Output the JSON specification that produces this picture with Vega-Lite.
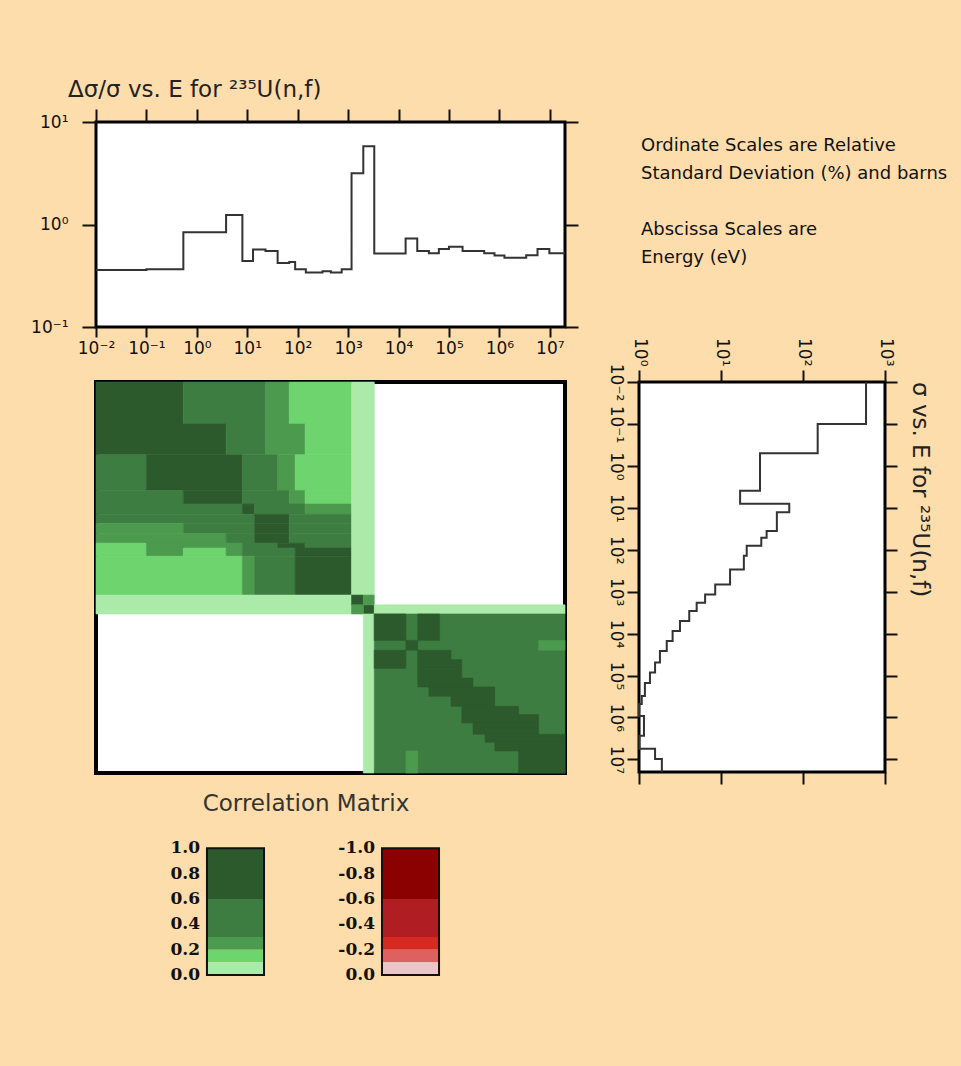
{
  "$schema": "https://vega.github.io/schema/vega-lite/v6.json",
  "autosize": "none",
  "padding": {"left": 96, "top": 122, "right": 865, "bottom": 944},
  "background": "#FDDDAB",
  "bounds": "flush",
  "columns": 2,
  "spacing": {"row": 55, "column": 74},
  "config": {
    "view": {"stroke": null},
    "axis": {"grid": false, "domain": false, "tickColor": "#111", "tickWidth": 2, "tickSize": 12, "labelFont": "DejaVu Sans", "labelFontSize": 17, "labelColor": "#111", "labelOverlap": false, "labelPadding": 3, "labelFlush": false},
    "title": {"font": "DejaVu Sans", "fontSize": 23, "fontWeight": "normal", "color": "#222"},
    "text": {"font": "DejaVu Sans"}
  },
  "datasets": {
    "unc": [
      {"E": 0.01, "u": 0.36}, {"E": 0.1, "u": 0.365}, {"E": 0.54, "u": 0.84}, {"E": 3.8, "u": 1.24},
      {"E": 8, "u": 0.44}, {"E": 13, "u": 0.57}, {"E": 23, "u": 0.55}, {"E": 40, "u": 0.42},
      {"E": 68, "u": 0.43}, {"E": 89, "u": 0.365}, {"E": 145, "u": 0.34}, {"E": 310, "u": 0.35},
      {"E": 455, "u": 0.34}, {"E": 745, "u": 0.365}, {"E": 1170, "u": 3.16}, {"E": 2000, "u": 5.8},
      {"E": 3300, "u": 0.52}, {"E": 13800, "u": 0.73}, {"E": 23500, "u": 0.552}, {"E": 40000, "u": 0.523},
      {"E": 63000, "u": 0.577}, {"E": 100000, "u": 0.608}, {"E": 186000, "u": 0.552}, {"E": 500000, "u": 0.523},
      {"E": 800000, "u": 0.497}, {"E": 1260000, "u": 0.474}, {"E": 3400000, "u": 0.5}, {"E": 5700000, "u": 0.577},
      {"E": 9800000, "u": 0.523}, {"E": 20000000, "u": 0.523}
    ],
    "sigma": [
      {"E": 0.01, "s": 587}, {"E": 0.1, "s": 151}, {"E": 0.5, "s": 29.9}, {"E": 3.9, "s": 17.1},
      {"E": 8, "s": 68}, {"E": 12.8, "s": 48}, {"E": 36, "s": 36}, {"E": 52, "s": 31},
      {"E": 80, "s": 20.6}, {"E": 140, "s": 19}, {"E": 295, "s": 12.9}, {"E": 675, "s": 8.5},
      {"E": 1170, "s": 6.4}, {"E": 1830, "s": 5.05}, {"E": 2900, "s": 4.1}, {"E": 5000, "s": 3.16},
      {"E": 8700, "s": 2.57}, {"E": 15000, "s": 2.18}, {"E": 26000, "s": 1.8}, {"E": 49000, "s": 1.57},
      {"E": 85000, "s": 1.36}, {"E": 150000, "s": 1.18}, {"E": 310000, "s": 1.08}, {"E": 480000, "s": 1.0},
      {"E": 920000, "s": 1.15}, {"E": 2750000, "s": 1.01}, {"E": 5600000, "s": 1.57}, {"E": 9800000, "s": 1.9},
      {"E": 20000000, "s": 1.9}
    ],
    "corr": [
      {"x1": 0.01, "x2": 0.54, "y1": 0.01, "y2": 0.1, "r": 0.8},
      {"x1": 0.54, "x2": 23, "y1": 0.01, "y2": 0.1, "r": 0.45},
      {"x1": 23, "x2": 68, "y1": 0.01, "y2": 0.1, "r": 0.25},
      {"x1": 68, "x2": 1170, "y1": 0.01, "y2": 0.1, "r": 0.15},
      {"x1": 0.01, "x2": 3.8, "y1": 0.1, "y2": 0.54, "r": 0.8},
      {"x1": 3.8, "x2": 23, "y1": 0.1, "y2": 0.54, "r": 0.45},
      {"x1": 23, "x2": 140, "y1": 0.1, "y2": 0.54, "r": 0.25},
      {"x1": 140, "x2": 1170, "y1": 0.1, "y2": 0.54, "r": 0.15},
      {"x1": 0.01, "x2": 0.1, "y1": 0.54, "y2": 3.8, "r": 0.45},
      {"x1": 0.1, "x2": 8, "y1": 0.54, "y2": 3.8, "r": 0.8},
      {"x1": 8, "x2": 40, "y1": 0.54, "y2": 3.8, "r": 0.45},
      {"x1": 40, "x2": 89, "y1": 0.54, "y2": 3.8, "r": 0.25},
      {"x1": 89, "x2": 1170, "y1": 0.54, "y2": 3.8, "r": 0.15},
      {"x1": 0.01, "x2": 0.54, "y1": 3.8, "y2": 8, "r": 0.45},
      {"x1": 0.54, "x2": 8, "y1": 3.8, "y2": 8, "r": 0.8},
      {"x1": 8, "x2": 68, "y1": 3.8, "y2": 8, "r": 0.45},
      {"x1": 68, "x2": 140, "y1": 3.8, "y2": 8, "r": 0.25},
      {"x1": 140, "x2": 1170, "y1": 3.8, "y2": 8, "r": 0.15},
      {"x1": 0.01, "x2": 8, "y1": 8, "y2": 14, "r": 0.45},
      {"x1": 8, "x2": 14, "y1": 8, "y2": 14, "r": 0.8},
      {"x1": 14, "x2": 140, "y1": 8, "y2": 14, "r": 0.45},
      {"x1": 140, "x2": 1170, "y1": 8, "y2": 14, "r": 0.25},
      {"x1": 0.01, "x2": 14, "y1": 14, "y2": 23, "r": 0.45},
      {"x1": 14, "x2": 68, "y1": 14, "y2": 23, "r": 0.8},
      {"x1": 68, "x2": 1170, "y1": 14, "y2": 23, "r": 0.45},
      {"x1": 0.01, "x2": 0.54, "y1": 23, "y2": 40, "r": 0.25},
      {"x1": 0.54, "x2": 14, "y1": 23, "y2": 40, "r": 0.45},
      {"x1": 14, "x2": 68, "y1": 23, "y2": 40, "r": 0.8},
      {"x1": 68, "x2": 1170, "y1": 23, "y2": 40, "r": 0.45},
      {"x1": 0.01, "x2": 3.8, "y1": 40, "y2": 68, "r": 0.25},
      {"x1": 3.8, "x2": 14, "y1": 40, "y2": 68, "r": 0.45},
      {"x1": 14, "x2": 68, "y1": 40, "y2": 68, "r": 0.8},
      {"x1": 68, "x2": 1170, "y1": 40, "y2": 68, "r": 0.45},
      {"x1": 0.01, "x2": 0.1, "y1": 68, "y2": 89, "r": 0.15},
      {"x1": 0.1, "x2": 8, "y1": 68, "y2": 89, "r": 0.25},
      {"x1": 8, "x2": 40, "y1": 68, "y2": 89, "r": 0.45},
      {"x1": 40, "x2": 140, "y1": 68, "y2": 89, "r": 0.8},
      {"x1": 140, "x2": 1170, "y1": 68, "y2": 89, "r": 0.45},
      {"x1": 0.01, "x2": 0.1, "y1": 89, "y2": 140, "r": 0.15},
      {"x1": 0.1, "x2": 0.54, "y1": 89, "y2": 140, "r": 0.25},
      {"x1": 0.54, "x2": 3.8, "y1": 89, "y2": 140, "r": 0.15},
      {"x1": 3.8, "x2": 8, "y1": 89, "y2": 140, "r": 0.25},
      {"x1": 8, "x2": 89, "y1": 89, "y2": 140, "r": 0.45},
      {"x1": 89, "x2": 1170, "y1": 89, "y2": 140, "r": 0.8},
      {"x1": 0.01, "x2": 8, "y1": 140, "y2": 1170, "r": 0.15},
      {"x1": 8, "x2": 14, "y1": 140, "y2": 1170, "r": 0.25},
      {"x1": 14, "x2": 89, "y1": 140, "y2": 1170, "r": 0.45},
      {"x1": 89, "x2": 1170, "y1": 140, "y2": 1170, "r": 0.8},
      {"x1": 1170, "x2": 3300, "y1": 0.01, "y2": 1170, "r": 0.05},
      {"x1": 0.01, "x2": 1170, "y1": 1170, "y2": 3300, "r": 0.05},
      {"x1": 1170, "x2": 2000, "y1": 1170, "y2": 2000, "r": 0.8},
      {"x1": 2000, "x2": 3300, "y1": 2000, "y2": 3300, "r": 0.8},
      {"x1": 2000, "x2": 3300, "y1": 1170, "y2": 2000, "r": 0.25},
      {"x1": 1170, "x2": 2000, "y1": 2000, "y2": 3300, "r": 0.25},
      {"x1": 3300, "x2": 20000000, "y1": 2000, "y2": 3300, "r": 0.05},
      {"x1": 2000, "x2": 3300, "y1": 3300, "y2": 20000000, "r": 0.05},
      {"x1": 3300, "x2": 20000000, "y1": 3300, "y2": 20000000, "r": 0.45},
      {"x1": 6000000, "x2": 20000000, "y1": 14000, "y2": 24000, "r": 0.25},
      {"x1": 14000, "x2": 24000, "y1": 6000000, "y2": 20000000, "r": 0.25},
      {"x1": 3300, "x2": 14000, "y1": 3300, "y2": 14000, "r": 0.8},
      {"x1": 24000, "x2": 65000, "y1": 3300, "y2": 14000, "r": 0.8},
      {"x1": 14000, "x2": 24000, "y1": 14000, "y2": 24000, "r": 0.8},
      {"x1": 3300, "x2": 14000, "y1": 24000, "y2": 40000, "r": 0.8},
      {"x1": 24000, "x2": 110000, "y1": 24000, "y2": 40000, "r": 0.8},
      {"x1": 3300, "x2": 14000, "y1": 40000, "y2": 65000, "r": 0.8},
      {"x1": 24000, "x2": 180000, "y1": 40000, "y2": 65000, "r": 0.8},
      {"x1": 24000, "x2": 180000, "y1": 65000, "y2": 110000, "r": 0.8},
      {"x1": 24000, "x2": 300000, "y1": 110000, "y2": 180000, "r": 0.8},
      {"x1": 40000, "x2": 810000, "y1": 180000, "y2": 300000, "r": 0.8},
      {"x1": 110000, "x2": 810000, "y1": 300000, "y2": 520000, "r": 0.8},
      {"x1": 180000, "x2": 2400000, "y1": 520000, "y2": 810000, "r": 0.8},
      {"x1": 180000, "x2": 6000000, "y1": 810000, "y2": 1300000, "r": 0.8},
      {"x1": 300000, "x2": 6000000, "y1": 1300000, "y2": 2400000, "r": 0.8},
      {"x1": 520000, "x2": 20000000, "y1": 2400000, "y2": 3700000, "r": 0.8},
      {"x1": 810000, "x2": 20000000, "y1": 3700000, "y2": 6000000, "r": 0.8},
      {"x1": 2400000, "x2": 20000000, "y1": 6000000, "y2": 20000000, "r": 0.8}
    ],
    "notes": [
      {"line": 0, "col": 0, "t": "Ordinate Scales are Relative"},
      {"line": 1, "col": 0, "t": "Standard Deviation (%) and barns"},
      {"line": 3, "col": 0, "t": "Abscissa Scales are"},
      {"line": 4, "col": 0, "t": "Energy (eV)"}
    ],
    "legendBars": [
      {"bar": "pos", "lo": 0.6, "hi": 1.0, "r": 0.8},
      {"bar": "pos", "lo": 0.3, "hi": 0.6, "r": 0.45},
      {"bar": "pos", "lo": 0.2, "hi": 0.3, "r": 0.25},
      {"bar": "pos", "lo": 0.1, "hi": 0.2, "r": 0.15},
      {"bar": "pos", "lo": 0.0, "hi": 0.1, "r": 0.05},
      {"bar": "neg", "lo": 0.6, "hi": 1.0, "r": -0.8},
      {"bar": "neg", "lo": 0.3, "hi": 0.6, "r": -0.45},
      {"bar": "neg", "lo": 0.2, "hi": 0.3, "r": -0.25},
      {"bar": "neg", "lo": 0.1, "hi": 0.2, "r": -0.15},
      {"bar": "neg", "lo": 0.0, "hi": 0.1, "r": -0.05}
    ],
    "legendFrame": [{"bar": "pos"}, {"bar": "neg"}],
    "legendLabels": [
      {"bar": "pos", "v": 1.0, "label": "1.0"}, {"bar": "pos", "v": 0.8, "label": "0.8"},
      {"bar": "pos", "v": 0.6, "label": "0.6"}, {"bar": "pos", "v": 0.4, "label": "0.4"},
      {"bar": "pos", "v": 0.2, "label": "0.2"}, {"bar": "pos", "v": 0.0, "label": "0.0"},
      {"bar": "neg", "v": 1.0, "label": "-1.0"}, {"bar": "neg", "v": 0.8, "label": "-0.8"},
      {"bar": "neg", "v": 0.6, "label": "-0.6"}, {"bar": "neg", "v": 0.4, "label": "-0.4"},
      {"bar": "neg", "v": 0.2, "label": "-0.2"}, {"bar": "neg", "v": 0.0, "label": "0.0"}
    ]
  },
  "concat": [
    {
      "width": 469,
      "height": 205,
      "view": {"stroke": "#000", "strokeWidth": 3, "fill": "#ffffff"},
      "title": {"text": "Δσ/σ vs. E for ²³⁵U(n,f)", "anchor": "start", "frame": "group", "dx": -28, "offset": 6},
      "data": {"name": "unc"},
      "layer": [
        {
          "mark": {"type": "line", "interpolate": "step-after", "color": "#333", "strokeWidth": 2},
          "encoding": {
            "x": {"field": "E", "type": "quantitative", "scale": {"type": "log", "domain": [0.01, 20000000], "nice": false},
                  "axis": {"orient": "bottom", "title": null, "tickSize": 10, "values": [0.01, 0.1, 1, 10, 100, 1000, 10000, 100000, 1000000, 10000000],
                           "labelExpr": "'10' + ['⁻²','⁻¹','⁰','¹','²','³','⁴','⁵','⁶','⁷'][round(log(datum.value)/LN10)+2]"}},
            "y": {"field": "u", "type": "quantitative", "scale": {"type": "log", "domain": [0.1, 10], "nice": false},
                  "axis": {"orient": "left", "title": null, "tickSize": 14, "values": [0.1, 1, 10], "labelPadding": 14,
                           "labelExpr": "'10' + ['⁻²','⁻¹','⁰','¹','²','³','⁴','⁵','⁶','⁷'][round(log(datum.value)/LN10)+2]"}}
          }
        },
        {
          "mark": {"type": "line", "interpolate": "step-after", "strokeOpacity": 0},
          "encoding": {
            "x": {"field": "E", "type": "quantitative", "axis": {"orient": "top", "title": null, "labels": false, "tickSize": 13, "values": [0.01, 0.1, 1, 10, 100, 1000, 10000, 100000, 1000000, 10000000]}},
            "y": {"field": "u", "type": "quantitative", "axis": {"orient": "right", "title": null, "labels": false, "tickSize": 13, "values": [0.1, 1, 10]}}
          }
        }
      ],
      "resolve": {"axis": {"x": "independent", "y": "independent"}}
    },
    {
      "width": 300,
      "height": 179,
      "data": {"name": "notes"},
      "mark": {"type": "text", "align": "left", "baseline": "middle", "fontSize": 18, "color": "#111", "dx": 2},
      "encoding": {
        "x": {"field": "col", "type": "quantitative", "scale": {"domain": [0, 1]}, "axis": null},
        "y": {"field": "line", "type": "quantitative", "scale": {"domain": [-0.85, 5.55], "reverse": true, "nice": false, "zero": false}, "axis": null},
        "text": {"field": "t"}
      }
    },
    {
      "width": 469,
      "height": 391,
      "view": {"stroke": "#000", "strokeWidth": 4, "fill": "#ffffff"},
      "data": {"name": "corr"},
      "mark": {"type": "rect", "strokeWidth": 0.6},
      "encoding": {
        "x": {"field": "x1", "type": "quantitative", "scale": {"type": "log", "domain": [0.01, 20000000], "nice": false}, "axis": null},
        "x2": {"field": "x2"},
        "y": {"field": "y1", "type": "quantitative", "scale": {"type": "log", "domain": [0.01, 20000000], "nice": false, "reverse": true}, "axis": null},
        "y2": {"field": "y2"},
        "fill": {"field": "r", "type": "quantitative", "legend": null,
                 "scale": {"type": "threshold", "domain": [-0.6, -0.3, -0.2, -0.1, 0, 0.1, 0.2, 0.3, 0.6],
                           "range": ["#8B0000", "#B01E23", "#D42A20", "#DE6060", "#EBC5C8", "#ABEAA8", "#6ED46E", "#4C9A4E", "#3E7D42", "#2D5A2D"]}},
        "stroke": {"field": "r", "type": "quantitative", "legend": null,
                 "scale": {"type": "threshold", "domain": [-0.6, -0.3, -0.2, -0.1, 0, 0.1, 0.2, 0.3, 0.6],
                           "range": ["#8B0000", "#B01E23", "#D42A20", "#DE6060", "#EBC5C8", "#ABEAA8", "#6ED46E", "#4C9A4E", "#3E7D42", "#2D5A2D"]}}
      }
    },
    {
      "width": 246,
      "height": 390,
      "view": {"stroke": "#000", "strokeWidth": 3, "fill": "#ffffff"},
      "title": {"text": "σ vs. E for ²³⁵U(n,f)", "orient": "right", "anchor": "start", "frame": "group", "offset": 10},
      "data": {"name": "sigma"},
      "layer": [
        {
          "mark": {"type": "line", "interpolate": "step-before", "color": "#333", "strokeWidth": 2},
          "encoding": {
            "x": {"field": "s", "type": "quantitative", "scale": {"type": "log", "domain": [1, 1000], "nice": false},
                  "axis": {"orient": "top", "title": null, "values": [1, 10, 100, 1000], "labelAngle": 90, "labelAlign": "right", "labelBaseline": "middle", "labelPadding": 4,
                           "labelExpr": "'10' + ['⁻²','⁻¹','⁰','¹','²','³','⁴','⁵','⁶','⁷'][round(log(datum.value)/LN10)+2]"}},
            "y": {"field": "E", "type": "quantitative", "scale": {"type": "log", "domain": [0.01, 20000000], "nice": false, "reverse": true},
                  "axis": {"orient": "left", "title": null, "values": [0.01, 0.1, 1, 10, 100, 1000, 10000, 100000, 1000000, 10000000], "labelAngle": 90, "labelAlign": "center", "labelBaseline": "top", "labelPadding": 4,
                           "labelExpr": "'10' + ['⁻²','⁻¹','⁰','¹','²','³','⁴','⁵','⁶','⁷'][round(log(datum.value)/LN10)+2]"}},
            "order": {"field": "E", "type": "quantitative"}
          }
        },
        {
          "mark": {"type": "line", "interpolate": "step-before", "strokeOpacity": 0},
          "encoding": {
            "x": {"field": "s", "type": "quantitative", "axis": {"orient": "bottom", "title": null, "labels": false, "values": [1, 10, 100, 1000]}},
            "y": {"field": "E", "type": "quantitative", "axis": {"orient": "right", "title": null, "labels": false, "values": [0.01, 0.1, 1, 10, 100, 1000, 10000, 100000, 1000000, 10000000]}},
            "order": {"field": "E", "type": "quantitative"}
          }
        }
      ],
      "resolve": {"axis": {"x": "independent", "y": "independent"}}
    },
    {
      "width": 454,
      "height": 147,
      "title": {"text": "Correlation Matrix", "anchor": "middle", "frame": "group", "dx": -17, "offset": 12, "color": "#333"},
      "layer": [
        {
          "data": {"name": "legendBars"},
          "mark": {"type": "rect"},
          "encoding": {
            "x": {"field": "bar", "type": "nominal", "scale": {"domain": ["pos", "neg"], "paddingInner": 0.674, "paddingOuter": 0.634}, "axis": null},
            "y": {"field": "lo", "type": "quantitative", "scale": {"domain": [0, 1.16], "nice": false, "zero": false}, "axis": null},
            "y2": {"field": "hi"},
            "fill": {"field": "r", "type": "quantitative", "legend": null,
                     "scale": {"type": "threshold", "domain": [-0.6, -0.3, -0.2, -0.1, 0, 0.1, 0.2, 0.3, 0.6],
                               "range": ["#8B0000", "#B01E23", "#D42A20", "#DE6060", "#EBC5C8", "#ABEAA8", "#6ED46E", "#4C9A4E", "#3E7D42", "#2D5A2D"]}}
          }
        },
        {
          "data": {"name": "legendFrame"},
          "mark": {"type": "rect", "fillOpacity": 0, "stroke": "#111", "strokeWidth": 2},
          "encoding": {
            "x": {"field": "bar", "type": "nominal"},
            "y": {"datum": 0, "type": "quantitative"},
            "y2": {"datum": 1}
          }
        },
        {
          "data": {"name": "legendLabels"},
          "mark": {"type": "text", "align": "right", "baseline": "middle", "dx": -7, "font": "DejaVu Serif", "fontWeight": "bold", "fontSize": 17, "color": "#111"},
          "encoding": {
            "x": {"field": "bar", "type": "nominal", "bandPosition": 0},
            "y": {"field": "v", "type": "quantitative"},
            "text": {"field": "label"}
          }
        }
      ]
    }
  ]
}
